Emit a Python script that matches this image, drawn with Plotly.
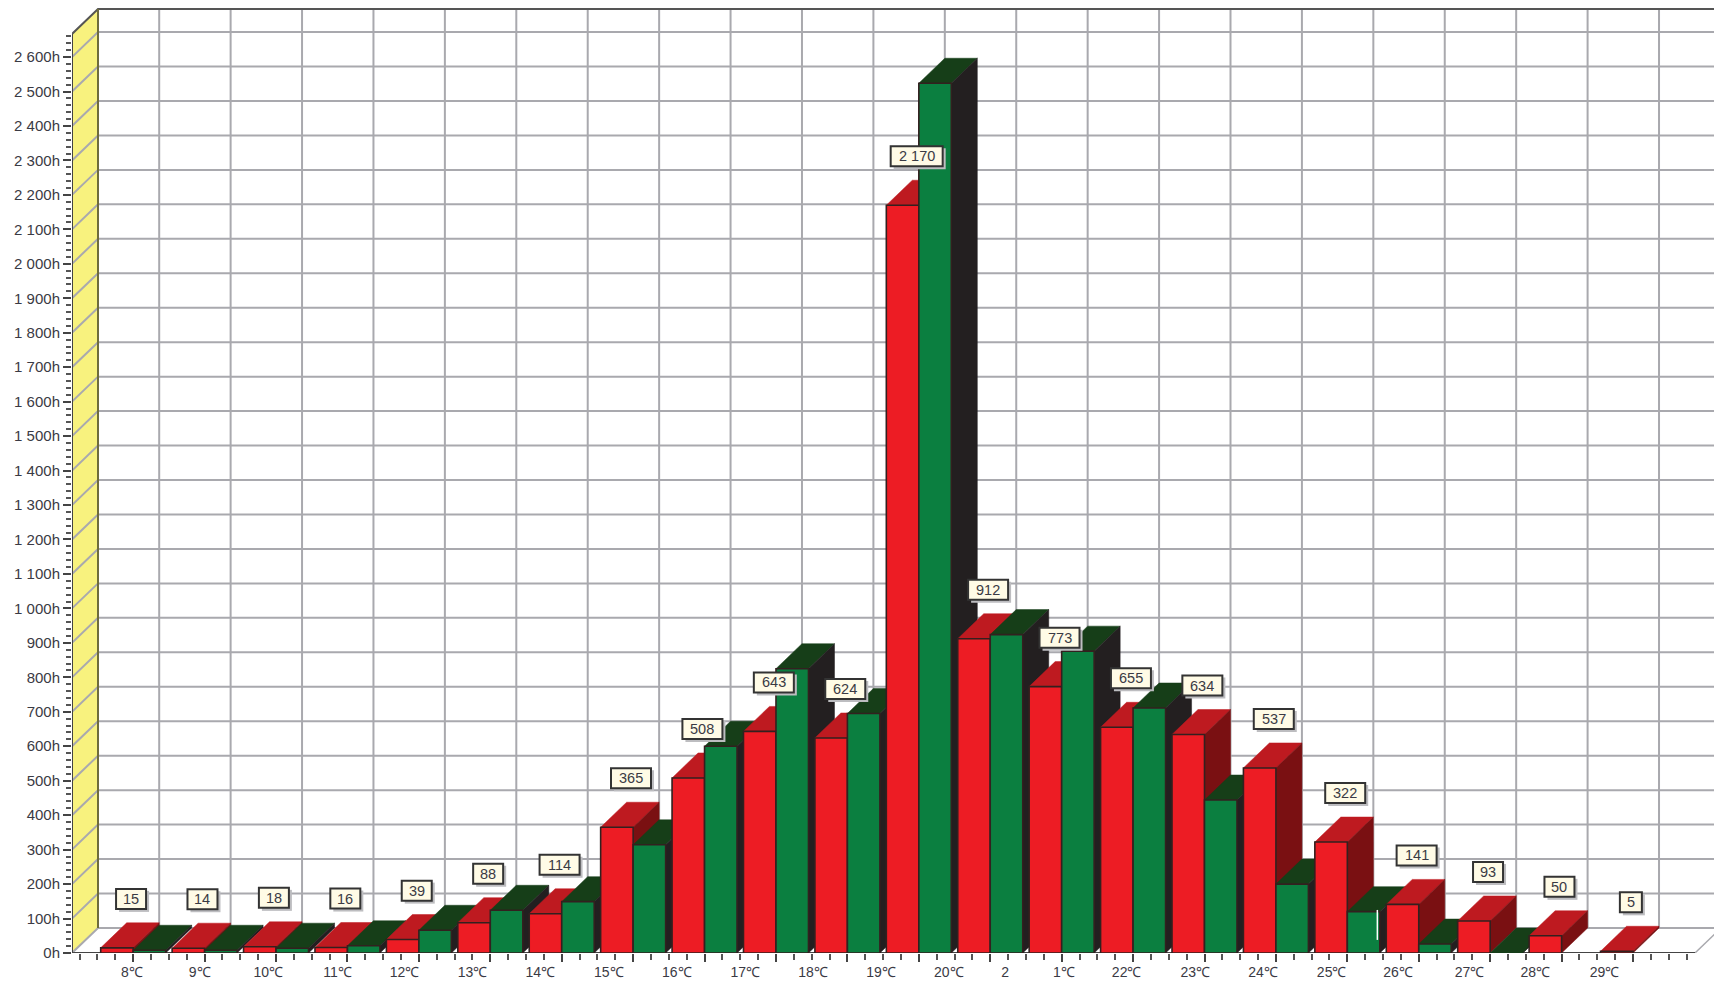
import plotly.graph_objects as go

cat_labels = ["8℃","9℃","10℃","11℃","12℃","13℃","14℃","15℃","16℃","17℃","18℃","19℃","20℃","2","1℃",
              "22℃","23℃","24℃","25℃","26℃","27℃","28℃","29℃"]
label_pos = [-0.02,0.93,1.89,2.86,3.80,4.75,5.70,6.66,7.61,8.57,9.52,10.47,11.42,12.21,13.03,
             13.91,14.87,15.82,16.78,17.71,18.71,19.63,20.60]
red_values = [15,14,18,16,39,88,114,365,508,643,624,2170,912,773,655,634,537,322,141,93,50,5]
green_values = [8,8,14,21,66,124,149,314,600,825,695,2524,924,876,711,444,200,120,26,0,None,None]
y_ticks = list(range(0, 2700, 100))
y_text = [(f"{v//1000} {v%1000:03d}h" if v >= 1000 else f"{v}h") for v in y_ticks]

PX_X, PX_Y = 71.42, 0.3446
W, H, L, B = 1714, 981, 72, 953
x0 = (L - 133.2) / PX_X
x1 = (W - 133.2) / PX_X
ytop = B / PX_Y
DX, DY = 26 / PX_X, 25 / PX_Y
HALF = 0.455
FRONT_TOP = 2667
GRID = "#A9A9AE"
N = len(red_values)
x_right = (1695 - 133.2) / PX_X

fig = go.Figure()

def line(xs, ys, color, width):
    fig.add_trace(go.Scatter(x=xs, y=ys, mode="lines", line=dict(color=color, width=width),
                             hoverinfo="skip", showlegend=False, cliponaxis=False))

def face(xs, ys, color, edge=None):
    fig.add_trace(go.Scatter(x=xs + xs[:1], y=ys + ys[:1], mode="lines", fill="toself", fillcolor=color,
                             line=dict(color=edge or color, width=1.6 if edge else 0.5),
                             hoverinfo="skip", showlegend=False, cliponaxis=False))

# yellow side wall
face([x0, x0 + DX, x0 + DX, x0], [0, DY, FRONT_TOP + DY, FRONT_TOP], "#F8F27E")

# wall grid
gx, gy = [], []
for v in y_ticks:
    gx += [x0, x0 + DX, x1, None]
    gy += [v, v + DY, v + DY, None]
for i in range(22):
    gx += [i + DX, i + DX, None]
    gy += [DY, FRONT_TOP + DY, None]
line(gx, gy, GRID, 2)
line([x_right, x_right + DX], [0, DY], GRID, 1.5)

# frame
line([x0, x0 + DX, x1], [FRONT_TOP, FRONT_TOP + DY, FRONT_TOP + DY], "#555555", 2)
line([x0 + DX, x0 + DX], [DY, FRONT_TOP + DY], "#6E6C3C", 2)
line([x0, x0], [0, FRONT_TOP], "#444444", 2)
line([x0, x_right], [0, 0], "#444444", 2)

def bar(left, right, v, front, top, side):
    if v is None:
        return
    face([left, right, right + DX, left + DX], [v, v, v + DY, v + DY], top)
    face([right, right + DX, right + DX, right], [0, DY, v + DY, v], side)
    if v > 0:
        face([left, right, right, left], [0, 0, v, v], front, "#33201F")

for i in range(N):
    bar(i - HALF, i, red_values[i], "#ED1C24", "#BE1A20", "#7A1012")
    bar(i, i + HALF, green_values[i], "#0B7F40", "#163E18", "#231F20")

# invisible trace that keeps the label axis alive
fig.add_trace(go.Scatter(x=label_pos, y=[0] * len(label_pos), xaxis="x2", mode="markers",
                         marker=dict(opacity=0), hoverinfo="skip", showlegend=False))

shapes = [dict(type="line", x0=17.42, x1=17.42, y0=38, y1=125, line=dict(color="white", width=1.5))]
annotations = []
for i, v in enumerate(red_values):
    txt = f"{v//1000} {v%1000:03d}" if v >= 1000 else str(v)
    w = {1: 22, 2: 30, 3: 40}.get(len(txt), 52)
    ax, ay = i - 0.03, v + 142
    base = dict(type="rect", xsizemode="pixel", ysizemode="pixel", xanchor=ax, yanchor=ay)
    shapes.append(dict(base, x0=-w / 2 + 3, x1=w / 2 + 3, y0=-13, y1=8, fillcolor="#BDBDC0", line=dict(width=0)))
    shapes.append(dict(base, x0=-w / 2, x1=w / 2, y0=-10, y1=10, fillcolor="#FFFBE6",
                       line=dict(color="#333333", width=2)))
    annotations.append(dict(x=ax, y=ay, xref="x", yref="y", text=txt, showarrow=False,
                            font=dict(family="Liberation Sans", size=14.5, color="#3A3A44")))

major_x = list(range(N))
minor_x = [k / 4 for k in range(-3, 88) if k % 4]
minor_y = [v for v in range(0, FRONT_TOP, 20) if v % 100]

fig.update_layout(
    width=W, height=H, autosize=False,
    margin=dict(l=L, r=0, t=0, b=H - B, pad=0, autoexpand=False),
    paper_bgcolor="white", plot_bgcolor="white", showlegend=False,
    font=dict(family="Liberation Sans", size=14, color="#3A3A44"),
    xaxis=dict(range=[x0, x1], showgrid=False, zeroline=False, showline=False, fixedrange=True,
               automargin=False,
               tickmode="array", tickvals=major_x, ticktext=[""] * N, ticks="outside", ticklen=8,
               tickwidth=1.5, tickcolor="#444444",
               minor=dict(tickmode="array", tickvals=minor_x, ticks="outside", ticklen=6, tickwidth=1.5,
                          tickcolor="#555555", showgrid=False)),
    xaxis2=dict(range=[x0, x1], overlaying="x", anchor="y", side="bottom", showgrid=False, zeroline=False,
                automargin=False,
                showline=False, fixedrange=True, tickmode="array", tickvals=label_pos, ticktext=cat_labels,
                ticks="outside", ticklen=6, tickcolor="rgba(0,0,0,0)", tickfont=dict(size=14)),
    yaxis=dict(range=[0, ytop], showgrid=False, zeroline=False, showline=False, fixedrange=True,
               automargin=False,
               tickmode="array", tickvals=y_ticks, ticktext=y_text, ticks="outside", ticklen=8,
               tickwidth=1.5, tickcolor="#444444", tickfont=dict(size=15),
               minor=dict(tickmode="array", tickvals=minor_y, ticks="outside", ticklen=5, tickwidth=1.5,
                          tickcolor="#555555", showgrid=False)),
    shapes=shapes, annotations=annotations,
)
fig.write_html("out.html", config=dict(displayModeBar=False), post_script="document.body.style.margin='0';")
